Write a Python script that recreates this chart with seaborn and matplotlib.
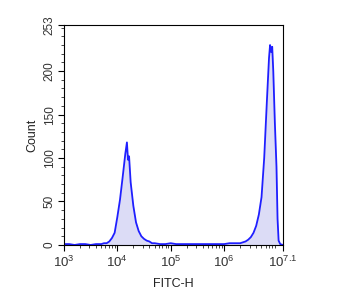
import matplotlib
matplotlib.use("Agg")
import matplotlib.pyplot as plt
import seaborn as sns
import numpy as np
import pandas as pd
from matplotlib.ticker import FixedLocator, MultipleLocator

# data: log10(FITC-H) positions and event counts
log_fitc = [3.00, 3.10, 3.20, 3.30, 3.40, 3.50, 3.60, 3.70, 3.75, 3.80, 3.85, 3.90, 3.95,
            4.00, 4.05, 4.10, 4.15, 4.18, 4.20, 4.22, 4.25, 4.30, 4.35, 4.40, 4.45, 4.50,
            4.55, 4.60, 4.65, 4.70, 4.80, 4.90, 5.00, 5.10, 5.20, 5.30, 5.40, 5.50, 5.60,
            5.70, 5.80, 5.90, 6.00, 6.10, 6.20, 6.30, 6.40, 6.45, 6.50, 6.55, 6.60, 6.65,
            6.70, 6.75, 6.80, 6.84, 6.86, 6.88, 6.90, 6.92, 6.95, 6.98, 7.00, 7.02, 7.05, 7.10]
counts = [1, 1, 0, 1, 1, 0, 1, 1, 2, 2, 4, 8, 14,
          32, 52, 78, 105, 118, 98, 102, 72, 45, 26, 16, 10, 7,
          5, 4, 2, 2, 1, 1, 2, 1, 1, 1, 1, 1, 1,
          1, 1, 1, 1, 2, 2, 2, 4, 6, 9, 14, 22, 35,
          55, 100, 165, 215, 230, 222, 228, 200, 140, 90, 30, 5, 1, 0]

x_major = [3, 4, 5, 6, 7.1]
x_labels = [r"$\mathregular{10^{3}}$", r"$\mathregular{10^{4}}$", r"$\mathregular{10^{5}}$",
            r"$\mathregular{10^{6}}$", r"$\mathregular{10^{7.1}}$"]
y_major = [0, 50, 100, 150, 200, 253]

sns.set_style("ticks")
plt.rcParams["font.family"] = ["Liberation Sans", "DejaVu Sans"]
plt.rcParams["mathtext.fontset"] = "custom"
plt.rcParams["mathtext.rm"] = "Liberation Sans"

fig = plt.figure(figsize=(3.59, 2.98), dpi=100)
ax = fig.add_axes([0.178, 0.178, 0.610, 0.738])

df = pd.DataFrame({"x": log_fitc, "y": counts})
ax.fill_between(df["x"], df["y"], 0, color="#dcdcf6", lw=0)
sns.lineplot(data=df, x="x", y="y", ax=ax, color="#1f1fff", lw=1.3)

ax.set_xlim(3, 7.1)
ax.set_ylim(0, 253)

ax.xaxis.set_major_locator(FixedLocator(x_major))
ax.set_xticklabels(x_labels)
minor = [np.log10(m * 10 ** k) for k in range(3, 7) for m in range(2, 10)]
minor = [v for v in minor if v < 7.1]
ax.xaxis.set_minor_locator(FixedLocator(minor))

ax.yaxis.set_major_locator(FixedLocator(y_major))
ax.yaxis.set_minor_locator(MultipleLocator(10))
ax.set_yticklabels([str(v) for v in y_major], rotation=90, va="center")

ax.tick_params(axis="both", which="major", direction="out", length=4, width=0.8,
               labelsize=8.5, colors="black", labelcolor="#333333", pad=2)
ax.tick_params(axis="both", which="minor", direction="out", length=2, width=0.6)
ax.tick_params(axis="x", which="major", labelsize=9.5, pad=3)

for s in ax.spines.values():
    s.set_linewidth(0.8)
    s.set_color("black")

ax.set_xlabel("FITC-H", fontsize=9, labelpad=6, color="#222222")
ax.set_ylabel("Count", fontsize=9, labelpad=4, color="#222222")

fig.savefig("out.png", dpi=100)
